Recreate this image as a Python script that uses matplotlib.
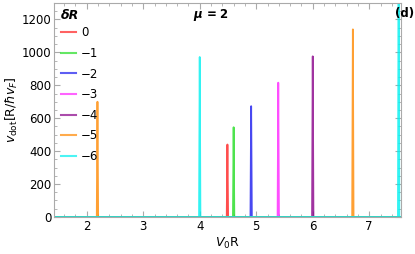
import matplotlib.pyplot as plt
from matplotlib.ticker import MultipleLocator
from matplotlib.lines import Line2D

# delta R labels and colors
labels = ["0", "\u22121", "\u22122", "\u22123", "\u22124", "\u22125", "\u22126"]
colors = ["#ff2020", "#22dd22", "#1a1aee", "#ff22ff", "#880088", "#ff8800", "#00f0f0"]

# peak positions (V0 R) and heights for each delta R
peak_x = [[4.49], [4.60], [4.91], [5.39], [6.00], [2.19, 6.71], [4.00, 7.52]]
peak_h = [[440], [545], [673], [816], [976], [700, 1140], [972, 1600]]

xmin, xmax = 1.42, 7.56
w = 0.012

fig = plt.figure(figsize=(4.15, 2.54), dpi=100)
ax = fig.add_axes([0.130, 0.146, 0.836, 0.842])

for px, ph, c in zip(peak_x, peak_h, colors):
    xs = [xmin]
    ys = [0]
    for p, h in zip(px, ph):
        xs += [p - w, p, p + w]
        ys += [0, h, 0]
    xs.append(xmax)
    ys.append(0)
    ax.plot(xs, ys, color=c, lw=1.3, alpha=0.8)

ax.set_xlim(xmin, xmax)
ax.set_ylim(0, 1300)
ax.xaxis.set_major_locator(MultipleLocator(1))
ax.xaxis.set_minor_locator(MultipleLocator(0.2))
ax.yaxis.set_major_locator(MultipleLocator(200))
ax.yaxis.set_minor_locator(MultipleLocator(50))
ax.tick_params(which="both", direction="in", top=True, right=True, color="#aaaaaa",
               labelsize=8.5, pad=2)
ax.tick_params(which="major", length=4)
ax.tick_params(which="minor", length=2)
for s in ax.spines.values():
    s.set_color("#aaaaaa")

ax.set_xlabel(r"$V_0$R", fontsize=9, labelpad=2)
ax.set_ylabel(r"$v_{\rm dot}$[R/$\hbar v_F$]", fontsize=9, labelpad=1)

ax.text(4.2, 1225, r"$\boldsymbol{\mu}$ = 2", fontsize=8.5, fontweight="bold",
        ha="center", va="center")
fig.text(0.975, 0.945, "(d)", fontsize=8.5, fontweight="bold", ha="center", va="center")

handles = [Line2D([], [], color=c, lw=1.5, alpha=0.7) for c in colors]
leg = ax.legend(handles, labels, loc="upper left", bbox_to_anchor=(0.0, 1.004),
                title="\u03b4R", frameon=False, fontsize=8.5, handlelength=1.3,
                handletextpad=0.4, labelspacing=0.64, borderaxespad=0.2,
                alignment="left")
leg.get_title().set_fontweight("bold")
leg.get_title().set_fontstyle("italic")
leg.get_title().set_fontsize(9)
leg._legend_box.sep = 3

fig.savefig("out.png", dpi=100)
